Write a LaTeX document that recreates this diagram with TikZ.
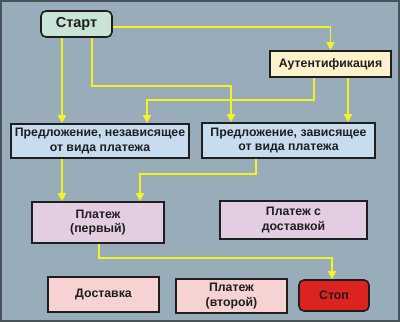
\documentclass[tikz,border=0pt]{standalone}
\usepackage{fontspec}
\setmainfont{Liberation Sans}
\usetikzlibrary{arrows.meta}
\definecolor{bgc}{HTML}{98ADB9}
\definecolor{framec}{HTML}{4A5358}
\definecolor{startc}{HTML}{C7E4D6}
\definecolor{authc}{HTML}{FFF2CC}
\definecolor{predc}{HTML}{C8DCF0}
\definecolor{platc}{HTML}{E3CDE3}
\definecolor{pinkc}{HTML}{F6D2D2}
\definecolor{stopc}{HTML}{DC2320}
\definecolor{arrc}{HTML}{F2F224}
\definecolor{txtc}{HTML}{1E1E1E}
\tikzset{
  box/.style={draw=txtc, line width=1.6pt, align=center, inner sep=1pt,
    font=\fontsize{12.3}{14.5}\selectfont\bfseries, text=txtc},
  rbox/.style={box, rounded corners=5pt},
  conn/.style={arrc, line width=1.6pt, -{Triangle[width=8pt,length=8pt]}},
}
\begin{document}
\begin{tikzpicture}[x=1pt,y=-1pt]
\useasboundingbox (0,0) rectangle (400,322);
\fill[bgc] (0,0) rectangle (400,322);
\draw[framec, line width=2pt] (1,1) rectangle (399,321);

\node[rbox, fill=startc, minimum width=71pt, minimum height=26pt, font=\fontsize{14.5}{16}\selectfont\bfseries] (start) at (76.5,24) {Старт};
\node[box, fill=authc, minimum width=121pt, minimum height=26pt] (auth) at (330.5,64) {Аутентификация};
\node[box, fill=predc, minimum width=178pt, minimum height=34pt] (pred1) at (100,141) {Предложение, независящее\\от вида платежа};
\node[box, fill=predc, minimum width=173pt, minimum height=35pt] (pred2) at (288.5,140.5) {Предложение, зависящее\\от вида платежа};
\node[box, fill=platc, minimum width=132pt, minimum height=41pt] (plat1) at (98,222.5) {Платеж\\(первый)};
\node[box, fill=platc, minimum width=147pt, minimum height=38pt] (platd) at (293.5,220) {Платеж с\\доставкой};
\node[box, fill=pinkc, minimum width=111pt, minimum height=35pt] (dost) at (103.5,294.5) {Доставка};
\node[box, fill=pinkc, minimum width=111pt, minimum height=34pt] (plat2) at (231.5,296) {Платеж\\(второй)};
\node[rbox, fill=stopc, minimum width=70pt, minimum height=31pt] (stop) at (334,295.5) {Стоп};

\coordinate (c1) at (231,86);
\coordinate (c2) at (147,100);
\coordinate (c3) at (140,174);
\coordinate (c4) at (332,258);

\draw[conn] ([yshift=-3pt]start.east) -| (auth.north);
\draw[conn] ([xshift=-14.5pt]start.south) -- ([xshift=-14.5pt]start.south |- pred1.north);
\draw[conn] ([xshift=15.5pt]start.south) |- (c1) -- (c1 |- pred2.north);
\draw[conn] ([xshift=-16.5pt]auth.south) |- (c2) -- (c2 |- pred1.north);
\draw[conn] ([xshift=17.5pt]auth.south) -- ([xshift=17.5pt]auth.south |- pred2.north);
\draw[conn] ([xshift=-38pt]pred1.south) -- ([xshift=-38pt]pred1.south |- plat1.north);
\draw[conn] ([xshift=-32.5pt]pred2.south) |- (c3) -- (c3 |- plat1.north);
\draw[conn] ([xshift=1pt]plat1.south) |- (c4) -- (c4 |- stop.north);
\end{tikzpicture}
\end{document}
